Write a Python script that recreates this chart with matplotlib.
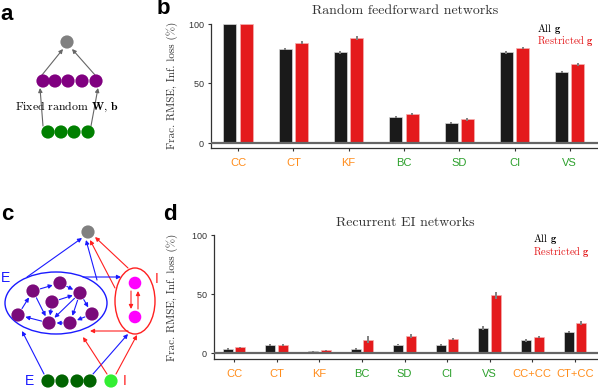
import matplotlib
matplotlib.use('Agg')
import matplotlib.pyplot as plt
import numpy as np
from matplotlib.patches import Circle, Ellipse

plt.rcParams['mathtext.fontset'] = 'cm'
plt.rcParams['axes.formatter.use_mathtext'] = True

SERIF = ['cmr10', 'DejaVu Serif']
SANS = ['Liberation Sans', 'DejaVu Sans']

ORANGE = '#ff8c1a'
GREEN = '#2ca02c'
BLACK = '#1a1a1a'
RED = '#e41a1c'

# ---- panel b data: random feedforward networks
ff_tasks = ['CC', 'CT', 'KF', 'BC', 'SD', 'CI', 'VS']
ff_colors = [ORANGE, ORANGE, ORANGE, GREEN, GREEN, GREEN, GREEN]
ff_all = [100, 78.7, 75.8, 21.6, 16.7, 75.8, 59.6]
ff_all_err = [0.3, 1.0, 1.2, 0.8, 1.0, 1.0, 0.8]
ff_res = [100, 83.9, 87.6, 24.4, 19.5, 79.4, 65.7]
ff_res_err = [0.3, 1.0, 1.5, 0.8, 1.0, 1.0, 1.0]

# ---- panel d data: recurrent EI networks
rec_tasks = ['CC', 'CT', 'KF', 'BC', 'SD', 'CI', 'VS', 'CC+CC', 'CT+CC']
rec_colors = [ORANGE, ORANGE, ORANGE, GREEN, GREEN, GREEN, GREEN, ORANGE, ORANGE]
rec_all = [3.1, 6.8, 1.1, 3.1, 6.8, 6.2, 21.0, 10.5, 17.8]
rec_all_err = [0.8, 0.8, 0.3, 0.6, 0.6, 0.8, 1.5, 1.0, 1.0]
rec_res = [4.5, 6.5, 2.0, 11.2, 14.3, 11.7, 48.7, 13.6, 25.2]
rec_res_err = [0.6, 0.6, 0.4, 3.0, 1.5, 1.0, 3.0, 1.0, 1.5]

# ---- diagram nodes (figure pixel coordinates)
a_gray = (67, 42)
a_purple_x = [43, 55, 68, 82, 96]
a_purple_y = 81
a_green_x = [48, 61, 74, 88]
a_green_y = 132

c_gray = (88, 232)
c_purple = [(33, 291), (60, 283), (80, 293), (52, 302), (18, 315), (49, 323), (70, 323), (92, 314)]
c_purple_links = [(0, 1), (1, 2), (4, 0), (0, 5), (3, 2), (2, 5), (2, 6), (2, 7), (6, 5), (5, 4), (7, 6), (3, 5)]
c_magenta = [(135, 283), (135, 317)]
c_green_x = [48, 62, 77, 90]
c_lightgreen_x = 111
c_input_y = 381

W, H = 598, 388
fig = plt.figure(figsize=(W / 100, H / 100), dpi=100)


def rect(l, t, r, b):
    return [l / W, 1 - b / H, (r - l) / W, (b - t) / H]


def bar_panel(ax, tasks, tcolors, v1, e1, v2, e2, xlim, ylow):
    x = np.arange(len(tasks))
    w, off = 0.235, 0.148
    ax.bar(x - off, v1, w, color=BLACK, edgecolor='#d8d8d8', linewidth=0.5,
           yerr=e1, error_kw=dict(ecolor='#808080', elinewidth=1.4, capsize=0), zorder=2)
    ax.bar(x + off, v2, w, color=RED, edgecolor='#f4b0b0', linewidth=0.5,
           yerr=e2, error_kw=dict(ecolor='#808080', elinewidth=1.4, capsize=0), zorder=2)
    ax.axhline(0, color='#666666', lw=1.6, zorder=3)
    ax.set_xlim(*xlim)
    ax.set_ylim(ylow, 100)
    ax.set_yticks([0, 50, 100])
    ax.set_xticks(x)
    ax.set_xticklabels(tasks, fontfamily=SANS, fontsize=8)
    for lab, c in zip(ax.get_xticklabels(), tcolors):
        lab.set_color(c)
    for lab in ax.get_yticklabels():
        lab.set_fontfamily(SANS)
    ax.tick_params(axis='x', length=2.5, width=0.8, color='#333333', pad=5)
    ax.tick_params(axis='y', length=2.5, width=0.8, color='#333333', pad=2,
                   labelsize=6.5, labelcolor='#333333')
    for s in ['top', 'right']:
        ax.spines[s].set_visible(False)
    for s in ['left', 'bottom']:
        ax.spines[s].set_color('#333333')
        ax.spines[s].set_linewidth(0.9)
    ax.set_facecolor('none')


ax_b = fig.add_axes(rect(211, 23.5, 598, 148))
bar_panel(ax_b, ff_tasks, ff_colors, ff_all, ff_all_err, ff_res, ff_res_err, (-0.49, 6.51), -4.5)
ax_b.set_ylabel('Frac. RMSE, Inf. loss (%)', fontfamily=SERIF, fontsize=8, color='#333333')
ax_b.yaxis.set_label_coords(-0.085, 0.5)

ax_d = fig.add_axes(rect(214, 235, 598, 359))
bar_panel(ax_d, rec_tasks, rec_colors, rec_all, rec_all_err, rec_res, rec_res_err, (-0.47, 8.54), -5.35)
ax_d.set_ylabel('Frac. RMSE, Inf. loss (%)', fontfamily=SERIF, fontsize=8, color='#333333')
ax_d.yaxis.set_label_coords(-0.094, 0.5)

# overlay axes in pixel coordinates for diagrams and free text
ov = fig.add_axes([0, 0, 1, 1])
ov.set_xlim(0, W)
ov.set_ylim(H, 0)
ov.axis('off')
ov.set_zorder(-1)


def txt(x, y, s, **kw):
    ov.text(x, y, s, ha=kw.pop('ha', 'center'), va=kw.pop('va', 'center'), **kw)


# titles and legends
txt(405, 10.5, 'Random feedforward networks', fontfamily=SERIF, fontsize=10, color='#333333')
txt(405, 222.5, 'Recurrent EI networks', fontfamily=SERIF, fontsize=10, color='#333333')
txt(537, 28.5, r'All $\mathbf{g}$', fontfamily=SERIF, fontsize=7.5, color='black', ha='left')
txt(537, 41, r'Restricted $\mathbf{g}$', fontfamily=SERIF, fontsize=7.5, color=RED, ha='left')
txt(533, 239.5, r'All $\mathbf{g}$', fontfamily=SERIF, fontsize=7.5, color='black', ha='left')
txt(533, 252, r'Restricted $\mathbf{g}$', fontfamily=SERIF, fontsize=7.5, color=RED, ha='left')

# panel letters
for lx, ly, s in [(7, 14, 'a'), (163, 9, 'b'), (7, 214, 'c'), (170, 215, 'd')]:
    txt(lx, ly, s, fontfamily=SANS, fontsize=16, fontweight='bold')


def node(p, c, r=6.6):
    ov.add_patch(Circle(p, r, color=c, zorder=3, lw=0))


def arrow(p, q, c, lw=0.8, ms=6):
    ov.annotate('', xy=q, xytext=p,
                arrowprops=dict(arrowstyle='-|>', color=c, lw=lw, mutation_scale=ms,
                                shrinkA=0, shrinkB=0), zorder=2)


def link(p, q, c, r=6.6, lw=0.8):
    p, q = np.array(p, float), np.array(q, float)
    d = (q - p) / np.hypot(*(q - p))
    arrow(tuple(p + d * (r + 1)), tuple(q - d * (r + 1)), c, lw)


# ---- panel a
node(a_gray, '#808080')
for x in a_purple_x:
    node((x, a_purple_y), '#800080')
for x in a_green_x:
    node((x, a_green_y), '#008000')
arrow((43, 126), (40, 88), '#666666')
arrow((91, 126), (98, 88), '#666666')
arrow((42, 75), (63, 49), '#666666')
arrow((95, 75), (72, 49), '#666666')
txt(67, 107, r'Fixed random $\mathbf{W}$, $\mathbf{b}$', fontfamily=SERIF, fontsize=8.5)

# ---- panel c
BLUE = '#1a1aff'
CRED = '#ff2020'
ov.add_patch(Ellipse((56, 303), 102, 62, fill=False, ec=BLUE, lw=1.0))
ov.add_patch(Ellipse((135, 301), 40, 66, fill=False, ec=CRED, lw=1.0))
node(c_gray, '#808080')
for p in c_purple:
    node(p, '#7a0a7a')
for i, j in c_purple_links:
    link(c_purple[i], c_purple[j], BLUE, lw=0.8)
for p in c_magenta:
    node(p, '#ff00ff', 6.3)
arrow((131, 291), (131, 309), CRED)
arrow((138, 309), (138, 291), CRED)
for x in c_green_x:
    node((x, c_input_y), '#006400')
node((c_lightgreen_x, c_input_y), '#33ee33')

arrow((27, 277), (82, 238), BLUE)
arrow((97, 280), (86, 240), BLUE)
arrow((128, 268), (95, 237), CRED)
arrow((115, 288), (90, 240), CRED)
arrow((83, 277), (121, 277), BLUE)
arrow((128, 331), (90, 331), CRED)
arrow((44, 374), (22, 331), BLUE)
arrow((93, 374), (128, 334), BLUE)
arrow((107, 374), (83, 337), CRED)
arrow((116, 374), (137, 335), CRED)

txt(6, 278, 'E', fontfamily=SANS, fontsize=10, color=BLUE)
txt(157, 279, 'I', fontfamily=SANS, fontsize=10, color=CRED)
txt(30, 381, 'E', fontfamily=SANS, fontsize=10, color=BLUE)
txt(125, 381, 'I', fontfamily=SANS, fontsize=10, color=CRED)

fig.savefig('out.png', dpi=100)
